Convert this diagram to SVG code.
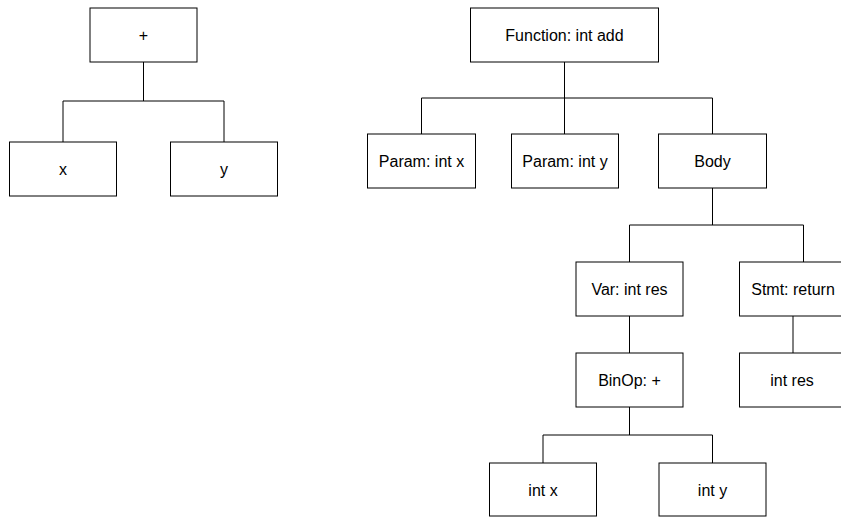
<svg xmlns="http://www.w3.org/2000/svg" width="841" height="518" viewBox="0 0 841 518">
<style>
.n rect{fill:#fff;stroke:#000;stroke-width:1}
.n text{font-family:"Liberation Sans",Arial,sans-serif;font-size:16px;fill:#000;text-anchor:middle}
.c path{fill:none;stroke:#000;stroke-width:1}
</style>
<rect width="841" height="518" fill="#fff"/>
<g class="c" id="connectors">
<path d="M143.5 62V101M63 101H224M63 101V142M224 101V142"/>
<path d="M564.5 62V98M421.5 98H712.5M421.5 98V134M564.5 98V134M712.5 98V134"/>
<path d="M712.5 188V225M629.5 225H803.5M629.5 225V262M803.5 225V262"/>
<path d="M629.5 316V353M793 316V353"/>
<path d="M629.5 407V435M543 435H712.5M543 435V463M712.5 435V463"/>
</g>
<g class="n" id="n-plus"><rect x="90" y="8" width="107" height="54"/><text x="143.5" y="40.5">+</text></g>
<g class="n" id="n-x"><rect x="9.5" y="142" width="107" height="54"/><text x="63" y="174.5">x</text></g>
<g class="n" id="n-y"><rect x="170.5" y="142" width="107" height="54"/><text x="224" y="174.5">y</text></g>
<g class="n" id="n-func"><rect x="470.5" y="8" width="188" height="54"/><text x="564.5" y="40.5">Function: int add</text></g>
<g class="n" id="n-paramx"><rect x="367.5" y="134" width="108" height="54"/><text x="421.5" y="167">Param: int x</text></g>
<g class="n" id="n-paramy"><rect x="511.5" y="134" width="107" height="54"/><text x="565" y="167">Param: int y</text></g>
<g class="n" id="n-body"><rect x="658.5" y="134" width="108" height="54"/><text x="712.5" y="167">Body</text></g>
<g class="n" id="n-var"><rect x="576" y="262" width="107" height="54"/><text x="629.5" y="295">Var: int res</text></g>
<g class="n" id="n-stmt"><rect x="739.5" y="262" width="107" height="54"/><text x="793" y="295">Stmt: return</text></g>
<g class="n" id="n-binop"><rect x="576" y="353" width="107" height="54"/><text x="629.5" y="386">BinOp: +</text></g>
<g class="n" id="n-intres"><rect x="739.5" y="353" width="107" height="54"/><text x="792" y="386">int res</text></g>
<g class="n" id="n-intx"><rect x="489.5" y="463" width="107" height="53"/><text x="543" y="495.5">int x</text></g>
<g class="n" id="n-inty"><rect x="659" y="463" width="107" height="53"/><text x="712.5" y="495.5">int y</text></g>
</svg>
